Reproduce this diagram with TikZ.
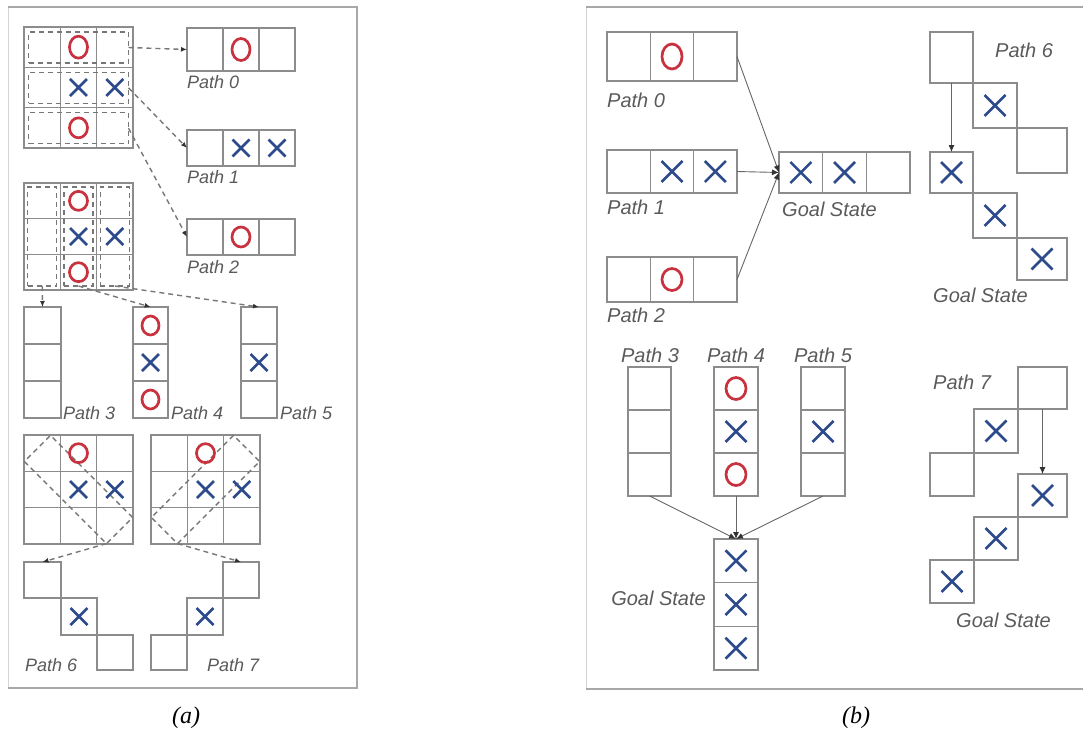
\documentclass[tikz,border=0pt]{standalone}
\usepackage{fontspec}
\setmainfont{Liberation Serif}
\setsansfont{Liberation Sans}
\usetikzlibrary{arrows.meta}
\definecolor{cellgray}{HTML}{8C8C8C}
\definecolor{xblue}{HTML}{2D4B8C}
\definecolor{ored}{HTML}{C8323F}
\definecolor{txtgray}{HTML}{5A5A5A}
\definecolor{dashgray}{HTML}{777777}
\definecolor{framelight}{HTML}{D4D4D4}
\definecolor{framedark}{HTML}{A8A8A8}
\tikzset{
  cellbox/.style={draw=cellgray,line width=1.1pt,inner sep=0pt,outer sep=0pt,anchor=north west},
  dashbox/.style={draw=dashgray,line width=1.4pt,dash pattern=on 5pt off 4pt,inner sep=0pt,outer sep=0pt},
  darrow/.style={draw=dashgray,line width=1.4pt,dash pattern=on 5pt off 4pt,-{Latex[length=6pt,width=5pt,color=black!80]}},
  sarrow/.style={draw=black!60,line width=0.9pt,-{Latex[length=7pt,width=6pt,color=black!80]}},
  labA/.style={font=\sffamily\itshape\fontsize{18}{18}\selectfont,text=txtgray,inner sep=0pt},
  labB/.style={font=\sffamily\itshape\fontsize{20}{20}\selectfont,text=txtgray,inner sep=0pt},
  caption/.style={font=\itshape\fontsize{24}{24}\selectfont,inner sep=0pt},
  pics/xm/.style={code={\draw[xblue,line width=2.6pt] (-#1,-#1)--(#1,#1) (-#1,#1)--(#1,-#1);}},
  pics/om/.style n args={2}{code={\draw[ored,line width=2.7pt] (0,0) ellipse [x radius=#1pt,y radius=#2pt];}},
}
\newcommand\hrow[5]{\foreach \i in {1,2,3}{\node[cellbox,minimum width=#4pt,minimum height=#5pt] (#1\i) at ({#2+(\i-1)*#4},#3) {};}}
\newcommand\vcol[5]{\foreach \i in {1,2,3}{\node[cellbox,minimum width=#4pt,minimum height=#5pt] (#1\i) at (#2,{#3+(\i-1)*#5}) {};}}
\newcommand\onecell[5]{\node[cellbox,minimum width=#4pt,minimum height=#5pt] (#1) at (#2,#3) {};}
\begin{document}
\begin{tikzpicture}[x=1pt,y=-1pt]
\useasboundingbox (0,0) rectangle (1083,739);
% frames
\draw[framelight,line width=1pt] (8,688) -- (8,7);
\draw[framedark,line width=1.2pt] (8,7) -- (357,7) -- (357,688) -- (8,688);
\draw[framelight,line width=1pt] (586,689) -- (586,7);
\draw[framedark,line width=1.2pt] (586,7) -- (1083,7);
\draw[framedark,line width=1.2pt] (586,689) -- (1083,689);
% ================= panel (a) =================
% grid 1 (rows)
\hrow{g1a}{24}{27}{36.33}{40.33}
\hrow{g1b}{24}{67.33}{36.33}{40.33}
\hrow{g1c}{24}{107.67}{36.33}{40.33}
\node[dashbox,minimum width=100pt,minimum height=31pt] (d1a) at (78.5,47.5) {};
\node[dashbox,minimum width=100pt,minimum height=31pt] (d1b) at (78.5,87.8) {};
\node[dashbox,minimum width=100pt,minimum height=31pt] (d1c) at (78.5,128.2) {};
\pic at (g1a2) {om={9}{11}};
\pic at (g1b2) {xm=8.5};
\pic at (g1b3) {xm=8.5};
\pic at (g1c2) {om={9}{10}};
% paths 0-2
\hrow{pa0}{187}{28}{36}{43}
\pic at (pa02) {om={9}{11}};
\node[labA,anchor=west] (lpa0) at (187,82) {Path 0};
\hrow{pa1}{187}{130}{36}{36}
\pic at (pa12) {xm=8.5};
\pic at (pa13) {xm=8.5};
\node[labA,anchor=west] (lpa1) at (187,177) {Path 1};
\hrow{pa2}{187}{219}{36}{36}
\pic at (pa22) {om={9}{10}};
\node[labA,anchor=west] (lpa2) at (187,267) {Path 2};
\draw[darrow] (d1a.east) -- (pa01.west);
\draw[darrow] (d1b.east) -- (pa11.west);
\draw[darrow] (d1c.east) -- (pa21.west);
% grid 2 (columns)
\hrow{g2a}{24}{183}{36.33}{35.67}
\hrow{g2b}{24}{218.67}{36.33}{35.67}
\hrow{g2c}{24}{254.33}{36.33}{35.67}
\node[dashbox,minimum width=29pt,minimum height=99pt] (d2a) at (42.2,236.5) {};
\node[dashbox,minimum width=29pt,minimum height=99pt] (d2b) at (78.5,236.5) {};
\node[dashbox,minimum width=29pt,minimum height=99pt] (d2c) at (114.8,236.5) {};
\pic at (g2a2) {om={9}{9.5}};
\pic at (g2b2) {xm=8.5};
\pic at (g2b3) {xm=8.5};
\pic at (g2c2) {om={9}{9.5}};
% paths 3-5
\vcol{pa3}{24}{307}{37}{37}
\vcol{pa4}{133}{307}{35}{37}
\vcol{pa5}{241}{307}{36}{37}
\pic at (pa41) {om={8.5}{9.5}};
\pic at (pa42) {xm=8.5};
\pic at (pa43) {om={8.5}{9.5}};
\pic at (pa52) {xm=8.5};
\node[labA,anchor=west] (lpa3) at (63,413) {Path 3};
\node[labA,anchor=west] (lpa4) at (171,413) {Path 4};
\node[labA,anchor=west] (lpa5) at (280,413) {Path 5};
\draw[darrow] (d2a.south) -- (pa31.north);
\draw[darrow] (d2b.south) -- (pa41.north);
\draw[darrow] (d2c.south) -- (pa51.north);
% grid 3 (diagonal)
\hrow{g3a}{24}{435}{36.33}{36.33}
\hrow{g3b}{24}{471.33}{36.33}{36.33}
\hrow{g3c}{24}{507.67}{36.33}{36.33}
\node[dashbox,minimum width=116pt,minimum height=37pt,rotate=-45] (d3) at (78.5,489.5) {};
\pic at (g3a2) {om={9}{9.5}};
\pic at (g3b2) {xm=8.5};
\pic at (g3b3) {xm=8.5};
% grid 4 (anti-diagonal)
\hrow{g4a}{151}{435}{36.33}{36.33}
\hrow{g4b}{151}{471.33}{36.33}{36.33}
\hrow{g4c}{151}{507.67}{36.33}{36.33}
\node[dashbox,minimum width=116pt,minimum height=37pt,rotate=45] (d4) at (205.5,489.5) {};
\pic at (g4a2) {om={9}{9.5}};
\pic at (g4b2) {xm=8.5};
\pic at (g4b3) {xm=8.5};
% path 6 (a)
\onecell{pa61}{24}{562}{37}{36}
\onecell{pa62}{61}{598}{36}{37}
\onecell{pa63}{97}{635}{36}{35}
\pic at (pa62) {xm=8.5};
\node[labA,anchor=west] (lpa6) at (25,665) {Path 6};
% path 7 (a)
\onecell{pa71}{223}{562}{36}{36}
\onecell{pa72}{187}{598}{36}{37}
\onecell{pa73}{151}{635}{36}{35}
\pic at (pa72) {xm=8.5};
\node[labA,anchor=west] (lpa7) at (207,665) {Path 7};
\draw[darrow] (d3.south east) -- (pa61.north);
\draw[darrow] (d4.south west) -- (pa71.north);
% ================= panel (b) =================
\hrow{pb0}{607}{32}{43.33}{49}
\pic at (pb02) {om={10}{12.5}};
\node[labB,anchor=west] (lpb0) at (607,100) {Path 0};
\hrow{pb1}{607}{150}{43.33}{43}
\pic at (pb12) {xm=10.5};
\pic at (pb13) {xm=10.5};
\node[labB,anchor=west] (lpb1) at (607,207) {Path 1};
\hrow{pb2}{607}{257}{43.33}{45}
\pic at (pb22) {om={10}{11}};
\node[labB,anchor=west] (lpb2) at (607,315) {Path 2};
\hrow{gb}{779}{152}{43.67}{41}
\pic at (gb1) {xm=10.5};
\pic at (gb2) {xm=10.5};
\node[labB,anchor=west] (lgb) at (782,209) {Goal State};
\draw[sarrow] (pb03.east) -- (gb1.west);
\draw[sarrow] (pb13.east) -- (gb1.west);
\draw[sarrow] (pb23.east) -- (gb1.west);
% paths 3-5 (b)
\vcol{pb3}{628}{367}{43}{43}
\vcol{pb4}{714}{367}{44}{43}
\vcol{pb5}{801}{367}{44}{43}
\pic at (pb41) {om={10}{11}};
\pic at (pb42) {xm=10.5};
\pic at (pb43) {om={10}{11}};
\pic at (pb52) {xm=10.5};
\node[labB] (lpb3) at (650,355) {Path 3};
\node[labB] (lpb4) at (736,355) {Path 4};
\node[labB] (lpb5) at (823,355) {Path 5};
\vcol{gv}{714}{539}{44}{43.67}
\pic at (gv1) {xm=10.5};
\pic at (gv2) {xm=10.5};
\pic at (gv3) {xm=10.5};
\node[labB,anchor=east] (lgv) at (706,598) {Goal State};
\draw[sarrow] (pb33.south) -- (gv1.north);
\draw[sarrow] (pb43.south) -- (gv1.north);
\draw[sarrow] (pb53.south) -- (gv1.north);
% path 6 (b)
\onecell{pb61}{930}{32}{43}{51}
\onecell{pb62}{973}{83}{44}{45}
\onecell{pb63}{1017}{128}{50}{45}
\pic at (pb62) {xm=10.5};
\node[labB,anchor=west] (lpb6) at (995,50) {Path 6};
\onecell{g6a}{930}{152}{43}{41}
\onecell{g6b}{973}{193}{44}{45}
\onecell{g6c}{1017}{238}{50}{42}
\pic at (g6a) {xm=10.5};
\pic at (g6b) {xm=10.5};
\pic at (g6c) {xm=10.5};
\node[labB,anchor=west] (lg6) at (933,295) {Goal State};
\draw[sarrow] (pb61.south) -- (g6a.north);
% path 7 (b)
\onecell{pb71}{1018}{367}{49}{42}
\onecell{pb72}{974}{409}{44}{44}
\onecell{pb73}{930}{453}{44}{43}
\pic at (pb72) {xm=10.5};
\node[labB,anchor=west] (lpb7) at (933,382) {Path 7};
\onecell{g7a}{1018}{474}{49}{43}
\onecell{g7b}{974}{517}{44}{43}
\onecell{g7c}{930}{560}{44}{43}
\pic at (g7a) {xm=10.5};
\pic at (g7b) {xm=10.5};
\pic at (g7c) {xm=10.5};
\node[labB,anchor=west] (lg7) at (956,620) {Goal State};
\draw[sarrow] (pb71.south) -- (g7a.north);
% captions
\node[caption] (capa) at (186,718) {(a)};
\node[caption] (capb) at (856,718) {(b)};
\end{tikzpicture}
\end{document}
